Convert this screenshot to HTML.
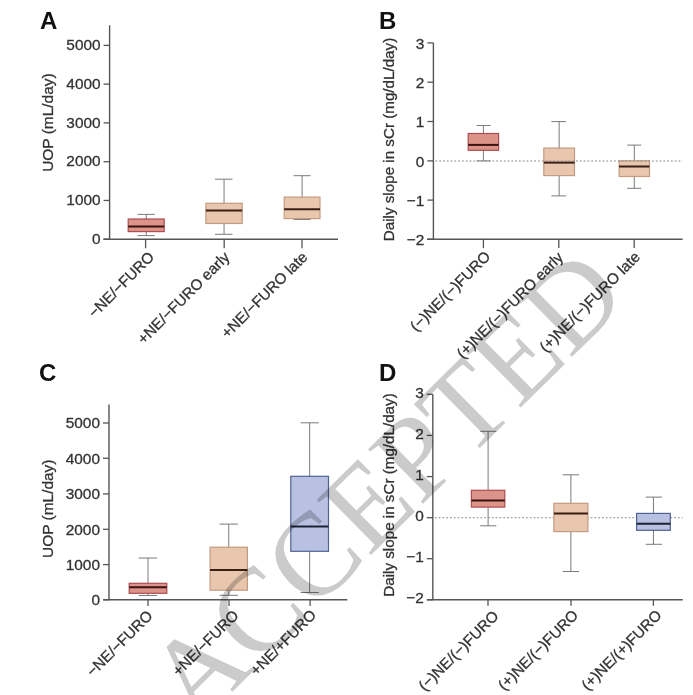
<!DOCTYPE html><html><head><meta charset="utf-8"><style>html,body{margin:0;padding:0;background:#fff;overflow:hidden}svg{display:block}</style></head><body>
<svg width="693" height="695" viewBox="0 0 693 695">
<rect width="693" height="695" fill="#fff"/>
<text x="40" y="29" font-family='"Liberation Sans", sans-serif' font-weight="bold" font-size="24" fill="#111">A</text>
<text transform="translate(53,122.6) rotate(-90)" text-anchor="middle" font-family='"Liberation Sans", sans-serif' font-size="15.45" fill="#333" stroke="#333" stroke-width="0.3">UOP (mL/day)</text>
<line x1="109.6" y1="25.3" x2="109.6" y2="239.25" stroke="#555" stroke-width="1.4"/>
<line x1="103.6" y1="45.4" x2="109.6" y2="45.4" stroke="#555" stroke-width="1.3"/>
<text x="100.6" y="50.0" text-anchor="end" font-family='"Liberation Sans", sans-serif' font-size="15.4" fill="#333" stroke="#333" stroke-width="0.3">5000</text>
<line x1="103.6" y1="84.15" x2="109.6" y2="84.15" stroke="#555" stroke-width="1.3"/>
<text x="100.6" y="88.75" text-anchor="end" font-family='"Liberation Sans", sans-serif' font-size="15.4" fill="#333" stroke="#333" stroke-width="0.3">4000</text>
<line x1="103.6" y1="122.9" x2="109.6" y2="122.9" stroke="#555" stroke-width="1.3"/>
<text x="100.6" y="127.5" text-anchor="end" font-family='"Liberation Sans", sans-serif' font-size="15.4" fill="#333" stroke="#333" stroke-width="0.3">3000</text>
<line x1="103.6" y1="161.7" x2="109.6" y2="161.7" stroke="#555" stroke-width="1.3"/>
<text x="100.6" y="166.29999999999998" text-anchor="end" font-family='"Liberation Sans", sans-serif' font-size="15.4" fill="#333" stroke="#333" stroke-width="0.3">2000</text>
<line x1="103.6" y1="200.45" x2="109.6" y2="200.45" stroke="#555" stroke-width="1.3"/>
<text x="100.6" y="205.04999999999998" text-anchor="end" font-family='"Liberation Sans", sans-serif' font-size="15.4" fill="#333" stroke="#333" stroke-width="0.3">1000</text>
<line x1="103.6" y1="239.2" x2="109.6" y2="239.2" stroke="#555" stroke-width="1.3"/>
<text x="100.6" y="243.79999999999998" text-anchor="end" font-family='"Liberation Sans", sans-serif' font-size="15.4" fill="#333" stroke="#333" stroke-width="0.3">0</text>
<line x1="103.4" y1="239.25" x2="338.0" y2="239.25" stroke="#555" stroke-width="1.4"/>
<line x1="145.6" y1="239.25" x2="145.6" y2="248.3" stroke="#555" stroke-width="1.3"/>
<line x1="224.2" y1="239.25" x2="224.2" y2="248.3" stroke="#555" stroke-width="1.3"/>
<line x1="302.0" y1="239.25" x2="302.0" y2="248.3" stroke="#555" stroke-width="1.3"/>
<line x1="146.2" y1="214.4" x2="146.2" y2="235.6" stroke="#7a7a7a" stroke-width="1"/>
<line x1="137.5" y1="214.4" x2="154.8" y2="214.4" stroke="#7a7a7a" stroke-width="1"/>
<line x1="137.5" y1="235.6" x2="154.8" y2="235.6" stroke="#7a7a7a" stroke-width="1"/>
<rect x="128.2" y="219.0" width="36.0" height="12.599999999999994" fill="#dc9489" stroke="#ad4c52" stroke-width="1.2"/>
<line x1="128.2" y1="226.6" x2="164.2" y2="226.6" stroke="#3a1212" stroke-width="2.0"/>
<line x1="224.05" y1="179.2" x2="224.05" y2="234.3" stroke="#7a7a7a" stroke-width="1"/>
<line x1="215.0" y1="179.2" x2="232.5" y2="179.2" stroke="#7a7a7a" stroke-width="1"/>
<line x1="215.0" y1="234.3" x2="232.5" y2="234.3" stroke="#7a7a7a" stroke-width="1"/>
<rect x="205.9" y="203.3" width="36.29999999999998" height="20.19999999999999" fill="#e8c7ae" stroke="#c49a80" stroke-width="1.2"/>
<line x1="205.9" y1="210.5" x2="242.2" y2="210.5" stroke="#3a1e14" stroke-width="2.0"/>
<line x1="302.1" y1="175.7" x2="302.1" y2="219.5" stroke="#7a7a7a" stroke-width="1"/>
<line x1="293.6" y1="175.7" x2="310.6" y2="175.7" stroke="#7a7a7a" stroke-width="1"/>
<line x1="293.6" y1="219.5" x2="310.6" y2="219.5" stroke="#7a7a7a" stroke-width="1"/>
<rect x="284.2" y="197.1" width="35.80000000000001" height="21.5" fill="#e8c7ae" stroke="#c49a80" stroke-width="1.2"/>
<line x1="284.2" y1="209.2" x2="320.0" y2="209.2" stroke="#3a1e14" stroke-width="2.0"/>
<text transform="translate(155.1,258.0) rotate(-45)" text-anchor="end" font-family='"Liberation Sans", sans-serif' font-size="15.15" fill="#333" stroke="#333" stroke-width="0.3">−NE/−FURO</text>
<text transform="translate(230.5,258.1) rotate(-45)" text-anchor="end" font-family='"Liberation Sans", sans-serif' font-size="15.15" fill="#333" stroke="#333" stroke-width="0.3">+NE/−FURO early</text>
<text transform="translate(308.5,258.0) rotate(-45)" text-anchor="end" font-family='"Liberation Sans", sans-serif' font-size="15.15" fill="#333" stroke="#333" stroke-width="0.3">+NE/−FURO late</text>
<text x="379" y="29" font-family='"Liberation Sans", sans-serif' font-weight="bold" font-size="24" fill="#111">B</text>
<text transform="translate(394.2,139.5) rotate(-90)" text-anchor="middle" font-family='"Liberation Sans", sans-serif' font-size="15.2" fill="#333" stroke="#333" stroke-width="0.3">Daily slope in sCr (mg/dL/day)</text>
<line x1="433.4" y1="42.9" x2="433.4" y2="239.3" stroke="#555" stroke-width="1.4"/>
<line x1="427.4" y1="42.9" x2="433.4" y2="42.9" stroke="#555" stroke-width="1.3"/>
<text x="424.4" y="48.5" text-anchor="end" font-family='"Liberation Sans", sans-serif' font-size="15.4" fill="#333" stroke="#333" stroke-width="0.3">3</text>
<line x1="427.4" y1="82.2" x2="433.4" y2="82.2" stroke="#555" stroke-width="1.3"/>
<text x="424.4" y="87.8" text-anchor="end" font-family='"Liberation Sans", sans-serif' font-size="15.4" fill="#333" stroke="#333" stroke-width="0.3">2</text>
<line x1="427.4" y1="121.5" x2="433.4" y2="121.5" stroke="#555" stroke-width="1.3"/>
<text x="424.4" y="127.1" text-anchor="end" font-family='"Liberation Sans", sans-serif' font-size="15.4" fill="#333" stroke="#333" stroke-width="0.3">1</text>
<line x1="427.4" y1="160.9" x2="433.4" y2="160.9" stroke="#555" stroke-width="1.3"/>
<text x="424.4" y="166.5" text-anchor="end" font-family='"Liberation Sans", sans-serif' font-size="15.4" fill="#333" stroke="#333" stroke-width="0.3">0</text>
<line x1="427.4" y1="200.1" x2="433.4" y2="200.1" stroke="#555" stroke-width="1.3"/>
<text x="424.4" y="205.7" text-anchor="end" font-family='"Liberation Sans", sans-serif' font-size="15.4" fill="#333" stroke="#333" stroke-width="0.3">−1</text>
<line x1="427.4" y1="239.3" x2="433.4" y2="239.3" stroke="#555" stroke-width="1.3"/>
<text x="424.4" y="244.9" text-anchor="end" font-family='"Liberation Sans", sans-serif' font-size="15.4" fill="#333" stroke="#333" stroke-width="0.3">−2</text>
<line x1="427.0" y1="239.3" x2="682.6" y2="239.3" stroke="#555" stroke-width="1.4"/>
<line x1="483.4" y1="239.3" x2="483.4" y2="248.1" stroke="#555" stroke-width="1.3"/>
<line x1="558.8" y1="239.3" x2="558.8" y2="248.1" stroke="#555" stroke-width="1.3"/>
<line x1="634.2" y1="239.3" x2="634.2" y2="248.1" stroke="#555" stroke-width="1.3"/>
<line x1="483.4" y1="125.5" x2="483.4" y2="160.9" stroke="#7a7a7a" stroke-width="1"/>
<line x1="476.6" y1="125.5" x2="490.7" y2="125.5" stroke="#7a7a7a" stroke-width="1"/>
<line x1="476.6" y1="160.9" x2="490.7" y2="160.9" stroke="#7a7a7a" stroke-width="1"/>
<rect x="468.2" y="133.5" width="30.400000000000034" height="16.80000000000001" fill="#dc9489" stroke="#ad4c52" stroke-width="1.2"/>
<line x1="468.2" y1="144.9" x2="498.6" y2="144.9" stroke="#3a1212" stroke-width="2.0"/>
<line x1="559.15" y1="121.6" x2="559.15" y2="195.9" stroke="#7a7a7a" stroke-width="1"/>
<line x1="551.4" y1="121.6" x2="566.1" y2="121.6" stroke="#7a7a7a" stroke-width="1"/>
<line x1="551.4" y1="195.9" x2="566.1" y2="195.9" stroke="#7a7a7a" stroke-width="1"/>
<rect x="543.8" y="148.1" width="30.700000000000045" height="27.5" fill="#e8c7ae" stroke="#c49a80" stroke-width="1.2"/>
<line x1="543.8" y1="162.6" x2="574.5" y2="162.6" stroke="#3a1e14" stroke-width="2.0"/>
<line x1="634.3" y1="145.1" x2="634.3" y2="188.3" stroke="#7a7a7a" stroke-width="1"/>
<line x1="627.2" y1="145.1" x2="641.2" y2="145.1" stroke="#7a7a7a" stroke-width="1"/>
<line x1="627.2" y1="188.3" x2="641.2" y2="188.3" stroke="#7a7a7a" stroke-width="1"/>
<rect x="619.1" y="160.8" width="30.399999999999977" height="15.699999999999989" fill="#e8c7ae" stroke="#c49a80" stroke-width="1.2"/>
<line x1="619.1" y1="166.5" x2="649.5" y2="166.5" stroke="#3a1e14" stroke-width="2.0"/>
<line x1="435.4" y1="161.0" x2="682.6" y2="161.0" stroke="#888" stroke-width="1.1" stroke-dasharray="1.8 2"/>
<text transform="translate(491.3,257.4) rotate(-45)" text-anchor="end" font-family='"Liberation Sans", sans-serif' font-size="15.15" fill="#333" stroke="#333" stroke-width="0.3">(−)NE/(−)FURO</text>
<text transform="translate(564.1,258.3) rotate(-45)" text-anchor="end" font-family='"Liberation Sans", sans-serif' font-size="15.15" fill="#333" stroke="#333" stroke-width="0.3">(+)NE/(−)FURO early</text>
<text transform="translate(641.0,257.9) rotate(-45)" text-anchor="end" font-family='"Liberation Sans", sans-serif' font-size="15.15" fill="#333" stroke="#333" stroke-width="0.3">(+)NE/(−)FURO late</text>
<text x="39" y="381" font-family='"Liberation Sans", sans-serif' font-weight="bold" font-size="24" fill="#111">C</text>
<text transform="translate(53,508.7) rotate(-90)" text-anchor="middle" font-family='"Liberation Sans", sans-serif' font-size="15.45" fill="#333" stroke="#333" stroke-width="0.3">UOP (mL/day)</text>
<line x1="109.0" y1="404.5" x2="109.0" y2="599.8" stroke="#555" stroke-width="1.4"/>
<line x1="103.0" y1="423.0" x2="109.0" y2="423.0" stroke="#555" stroke-width="1.3"/>
<text x="100.0" y="428.3" text-anchor="end" font-family='"Liberation Sans", sans-serif' font-size="15.4" fill="#333" stroke="#333" stroke-width="0.3">5000</text>
<line x1="103.0" y1="458.3" x2="109.0" y2="458.3" stroke="#555" stroke-width="1.3"/>
<text x="100.0" y="463.6" text-anchor="end" font-family='"Liberation Sans", sans-serif' font-size="15.4" fill="#333" stroke="#333" stroke-width="0.3">4000</text>
<line x1="103.0" y1="493.9" x2="109.0" y2="493.9" stroke="#555" stroke-width="1.3"/>
<text x="100.0" y="499.2" text-anchor="end" font-family='"Liberation Sans", sans-serif' font-size="15.4" fill="#333" stroke="#333" stroke-width="0.3">3000</text>
<line x1="103.0" y1="529.3" x2="109.0" y2="529.3" stroke="#555" stroke-width="1.3"/>
<text x="100.0" y="534.5999999999999" text-anchor="end" font-family='"Liberation Sans", sans-serif' font-size="15.4" fill="#333" stroke="#333" stroke-width="0.3">2000</text>
<line x1="103.0" y1="564.6" x2="109.0" y2="564.6" stroke="#555" stroke-width="1.3"/>
<text x="100.0" y="569.9" text-anchor="end" font-family='"Liberation Sans", sans-serif' font-size="15.4" fill="#333" stroke="#333" stroke-width="0.3">1000</text>
<line x1="103.0" y1="599.8" x2="109.0" y2="599.8" stroke="#555" stroke-width="1.3"/>
<text x="100.0" y="605.0999999999999" text-anchor="end" font-family='"Liberation Sans", sans-serif' font-size="15.4" fill="#333" stroke="#333" stroke-width="0.3">0</text>
<line x1="103.4" y1="599.8" x2="347.3" y2="599.8" stroke="#555" stroke-width="1.4"/>
<line x1="148.0" y1="599.8" x2="148.0" y2="606.0" stroke="#555" stroke-width="1.3"/>
<line x1="229.0" y1="599.8" x2="229.0" y2="606.0" stroke="#555" stroke-width="1.3"/>
<line x1="310.1" y1="599.8" x2="310.1" y2="606.0" stroke="#555" stroke-width="1.3"/>
<line x1="148.0" y1="558.0" x2="148.0" y2="595.5" stroke="#7a7a7a" stroke-width="1"/>
<line x1="138.7" y1="558.0" x2="157.1" y2="558.0" stroke="#7a7a7a" stroke-width="1"/>
<line x1="138.7" y1="595.5" x2="157.1" y2="595.5" stroke="#7a7a7a" stroke-width="1"/>
<rect x="129.2" y="583.3" width="37.60000000000002" height="10.0" fill="#dc9489" stroke="#ad4c52" stroke-width="1.2"/>
<line x1="129.2" y1="587.2" x2="166.8" y2="587.2" stroke="#3a1212" stroke-width="2.0"/>
<line x1="228.75" y1="524.1" x2="228.75" y2="595.3" stroke="#7a7a7a" stroke-width="1"/>
<line x1="219.6" y1="524.1" x2="237.9" y2="524.1" stroke="#7a7a7a" stroke-width="1"/>
<line x1="219.6" y1="595.3" x2="237.9" y2="595.3" stroke="#7a7a7a" stroke-width="1"/>
<rect x="210.1" y="547.2" width="37.30000000000001" height="43.0" fill="#e8c7ae" stroke="#c49a80" stroke-width="1.2"/>
<line x1="210.1" y1="570.0" x2="247.4" y2="570.0" stroke="#3a1e14" stroke-width="2.0"/>
<line x1="309.65" y1="422.8" x2="309.65" y2="592.5" stroke="#7a7a7a" stroke-width="1"/>
<line x1="300.6" y1="422.8" x2="318.7" y2="422.8" stroke="#7a7a7a" stroke-width="1"/>
<line x1="300.6" y1="592.5" x2="318.7" y2="592.5" stroke="#7a7a7a" stroke-width="1"/>
<rect x="290.8" y="476.3" width="37.69999999999999" height="74.99999999999994" fill="#b8c1e2" stroke="#4f6394" stroke-width="1.2"/>
<line x1="290.8" y1="526.6" x2="328.5" y2="526.6" stroke="#1c2232" stroke-width="2.0"/>
<text transform="translate(153.5,616.7) rotate(-45)" text-anchor="end" font-family='"Liberation Sans", sans-serif' font-size="15.15" fill="#333" stroke="#333" stroke-width="0.3">−NE/−FURO</text>
<text transform="translate(239.5,616.3) rotate(-45)" text-anchor="end" font-family='"Liberation Sans", sans-serif' font-size="15.15" fill="#333" stroke="#333" stroke-width="0.3">+NE/−FURO</text>
<text transform="translate(317.1,615.9) rotate(-45)" text-anchor="end" font-family='"Liberation Sans", sans-serif' font-size="15.15" fill="#333" stroke="#333" stroke-width="0.3">+NE/+FURO</text>
<text x="379" y="380.5" font-family='"Liberation Sans", sans-serif' font-weight="bold" font-size="24" fill="#111">D</text>
<text transform="translate(394.2,495.0) rotate(-90)" text-anchor="middle" font-family='"Liberation Sans", sans-serif' font-size="15.2" fill="#333" stroke="#333" stroke-width="0.3">Daily slope in sCr (mg/dL/day)</text>
<line x1="432.8" y1="394.3" x2="432.8" y2="599.8" stroke="#555" stroke-width="1.4"/>
<line x1="426.8" y1="394.3" x2="432.8" y2="394.3" stroke="#555" stroke-width="1.3"/>
<text x="423.8" y="397.7" text-anchor="end" font-family='"Liberation Sans", sans-serif' font-size="15.4" fill="#333" stroke="#333" stroke-width="0.3">3</text>
<line x1="426.8" y1="435.4" x2="432.8" y2="435.4" stroke="#555" stroke-width="1.3"/>
<text x="423.8" y="438.79999999999995" text-anchor="end" font-family='"Liberation Sans", sans-serif' font-size="15.4" fill="#333" stroke="#333" stroke-width="0.3">2</text>
<line x1="426.8" y1="476.6" x2="432.8" y2="476.6" stroke="#555" stroke-width="1.3"/>
<text x="423.8" y="480.0" text-anchor="end" font-family='"Liberation Sans", sans-serif' font-size="15.4" fill="#333" stroke="#333" stroke-width="0.3">1</text>
<line x1="426.8" y1="517.7" x2="432.8" y2="517.7" stroke="#555" stroke-width="1.3"/>
<text x="423.8" y="521.1" text-anchor="end" font-family='"Liberation Sans", sans-serif' font-size="15.4" fill="#333" stroke="#333" stroke-width="0.3">0</text>
<line x1="426.8" y1="558.7" x2="432.8" y2="558.7" stroke="#555" stroke-width="1.3"/>
<text x="423.8" y="562.1" text-anchor="end" font-family='"Liberation Sans", sans-serif' font-size="15.4" fill="#333" stroke="#333" stroke-width="0.3">−1</text>
<line x1="426.8" y1="599.8" x2="432.8" y2="599.8" stroke="#555" stroke-width="1.3"/>
<text x="423.8" y="603.1999999999999" text-anchor="end" font-family='"Liberation Sans", sans-serif' font-size="15.4" fill="#333" stroke="#333" stroke-width="0.3">−2</text>
<line x1="427.0" y1="599.8" x2="682.8" y2="599.8" stroke="#555" stroke-width="1.4"/>
<line x1="488.0" y1="599.8" x2="488.0" y2="605.8" stroke="#555" stroke-width="1.3"/>
<line x1="571.0" y1="599.8" x2="571.0" y2="605.8" stroke="#555" stroke-width="1.3"/>
<line x1="653.4" y1="599.8" x2="653.4" y2="605.8" stroke="#555" stroke-width="1.3"/>
<line x1="434.8" y1="517.7" x2="682.8" y2="517.7" stroke="#888" stroke-width="1.1" stroke-dasharray="1.8 2"/>
<line x1="488.1" y1="431.3" x2="488.1" y2="525.8" stroke="#7a7a7a" stroke-width="1"/>
<line x1="480.2" y1="431.3" x2="496.3" y2="431.3" stroke="#7a7a7a" stroke-width="1"/>
<line x1="480.2" y1="525.8" x2="496.3" y2="525.8" stroke="#7a7a7a" stroke-width="1"/>
<rect x="471.4" y="490.3" width="33.400000000000034" height="16.80000000000001" fill="#dc9489" stroke="#ad4c52" stroke-width="1.2"/>
<line x1="471.4" y1="500.4" x2="504.8" y2="500.4" stroke="#3a1212" stroke-width="2.0"/>
<line x1="570.9" y1="474.8" x2="570.9" y2="571.5" stroke="#7a7a7a" stroke-width="1"/>
<line x1="562.8" y1="474.8" x2="579.1" y2="474.8" stroke="#7a7a7a" stroke-width="1"/>
<line x1="562.8" y1="571.5" x2="579.1" y2="571.5" stroke="#7a7a7a" stroke-width="1"/>
<rect x="553.9" y="503.3" width="34.0" height="28.30000000000001" fill="#e8c7ae" stroke="#c49a80" stroke-width="1.2"/>
<line x1="553.9" y1="513.4" x2="587.9" y2="513.4" stroke="#3a1e14" stroke-width="2.0"/>
<line x1="653.45" y1="497.1" x2="653.45" y2="544.3" stroke="#7a7a7a" stroke-width="1"/>
<line x1="645.7" y1="497.1" x2="662.0" y2="497.1" stroke="#7a7a7a" stroke-width="1"/>
<line x1="645.7" y1="544.3" x2="662.0" y2="544.3" stroke="#7a7a7a" stroke-width="1"/>
<rect x="636.6" y="513.4" width="33.69999999999993" height="16.899999999999977" fill="#b8c1e2" stroke="#4f6394" stroke-width="1.2"/>
<line x1="636.6" y1="523.8" x2="670.3" y2="523.8" stroke="#1c2232" stroke-width="2.0"/>
<text transform="translate(499.6,616.9) rotate(-45)" text-anchor="end" font-family='"Liberation Sans", sans-serif' font-size="15.15" fill="#333" stroke="#333" stroke-width="0.3">(−)NE/(−)FURO</text>
<text transform="translate(579.2,616.2) rotate(-45)" text-anchor="end" font-family='"Liberation Sans", sans-serif' font-size="15.15" fill="#333" stroke="#333" stroke-width="0.3">(+)NE/(−)FURO</text>
<text transform="translate(662.6,616.2) rotate(-45)" text-anchor="end" font-family='"Liberation Sans", sans-serif' font-size="15.15" fill="#333" stroke="#333" stroke-width="0.3">(+)NE/(+)FURO</text>
<text transform="translate(195.5,728.1) rotate(-44.6)" font-family='"Liberation Serif", serif' font-size="118.2" fill="#cbcbcb" style="mix-blend-mode:multiply">ACCEPTED</text>
</svg></body></html>
